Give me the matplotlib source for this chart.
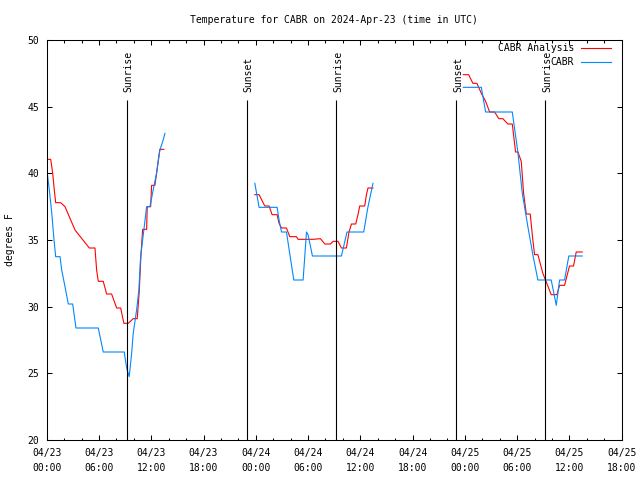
import matplotlib
matplotlib.use("Agg")
import matplotlib.pyplot as plt
import matplotlib.dates as mdates
import pandas as pd

plt.rcParams["font.family"] = ["DejaVu Sans Mono"]
plt.rcParams["font.size"] = 7

START = pd.Timestamp("2024-04-23 00:00")
END = pd.Timestamp("2024-04-25 18:00")

# hours after 04/23 00:00 UTC, temperature in degrees F
analysis_hours = [
    [0.00, 0.46, 0.69, 0.87, 1.03, 1.61, 2.10, 3.25, 4.89, 5.54, 5.73, 5.92,
     6.49, 6.88, 7.45, 8.03, 8.49, 8.86, 9.36, 9.93, 10.39, 10.62, 10.81,
     11.01, 11.47, 11.54, 11.93, 12.04, 12.42, 12.61, 12.80, 12.99, 13.45],
    [23.89, 24.38, 25.03, 25.53, 25.87, 26.45, 26.67, 26.95, 27.52, 27.90,
     28.67, 28.85, 30.57, 31.42, 31.92, 32.57, 32.87, 33.44, 33.83, 34.40,
     34.70, 34.98, 35.47, 35.73, 35.93, 36.50, 36.70, 36.88, 37.45],
    [47.82, 48.43, 48.92, 49.38, 49.89, 50.38, 50.84, 51.41, 51.90, 52.36,
     52.94, 53.44, 53.82, 54.09, 54.47, 54.74, 55.05, 55.50, 55.80, 56.00,
     56.38, 56.95, 57.91, 58.56, 58.87, 59.44, 60.01, 60.47, 60.78, 61.47],
]
analysis_temps = [
    [41.05, 41.05, 40.0, 38.75, 37.8, 37.8, 37.5, 35.75, 34.4, 34.4, 32.75,
     31.9, 31.9, 30.95, 30.95, 29.9, 29.9, 28.75, 28.75, 29.1, 29.1, 31.1,
     33.75, 35.8, 35.8, 37.5, 37.5, 39.1, 39.1, 40.0, 40.95, 41.8, 41.8],
    [38.4, 38.4, 37.55, 37.55, 36.9, 36.9, 36.25, 35.9, 35.9, 35.25, 35.25,
     35.05, 35.05, 35.1, 34.7, 34.7, 34.9, 34.9, 34.4, 34.4, 35.6, 36.2,
     36.2, 36.9, 37.55, 37.55, 38.4, 38.9, 38.9],
    [47.4, 47.4, 46.75, 46.75, 46.0, 45.4, 44.6, 44.6, 44.1, 44.1, 43.7,
     43.7, 41.6, 41.6, 40.9, 38.5, 36.95, 36.95, 35.0, 33.9, 33.9, 32.5,
     30.9, 30.9, 31.6, 31.6, 33.05, 33.05, 34.1, 34.1],
]

station_hours = [
    [0.00, 0.07, 0.30, 0.57, 0.84, 1.03, 1.53, 1.72, 2.10, 2.48, 2.98, 3.36,
     5.92, 6.49, 8.90, 9.09, 9.24, 9.47, 9.75, 9.93, 10.32, 10.58, 10.78,
     11.16, 11.47, 11.85, 12.22, 12.61, 12.99, 13.37, 13.57],
    [23.89, 24.38, 26.45, 26.67, 26.95, 27.52, 28.36, 29.43, 29.82, 30.00,
     30.50, 33.83, 34.47, 36.39, 36.85, 37.45],
    [47.82, 49.89, 50.38, 53.44, 54.08, 54.59, 55.23, 55.80, 56.38, 57.91,
     58.49, 58.87, 59.44, 59.93, 61.47],
]
station_temps = [
    [40.6, 40.0, 38.75, 37.1, 35.0, 33.75, 33.75, 32.75, 31.5, 30.2, 30.2,
     28.4, 28.4, 26.6, 26.6, 25.75, 25.25, 24.75, 26.5, 28.0, 29.75, 31.25,
     33.75, 35.8, 37.5, 37.5, 38.75, 40.0, 41.75, 42.5, 43.0],
    [39.25, 37.45, 37.45, 36.5, 35.6, 35.6, 32.0, 32.0, 35.6, 35.4, 33.8,
     33.8, 35.6, 35.6, 37.4, 39.25],
    [46.45, 46.45, 44.6, 44.6, 41.6, 38.5, 36.0, 33.9, 32.0, 32.0, 30.1,
     32.0, 32.0, 33.8, 33.8],
]

sun_events = ["Sunrise", "Sunset", "Sunrise", "Sunset", "Sunrise"]
sun_times = ["2024-04-23 09:10", "2024-04-23 22:58", "2024-04-24 09:14",
             "2024-04-24 23:02", "2024-04-25 09:13"]


def to_times(hours):
    return [START + pd.Timedelta(hours=h) for h in hours]


fig = plt.figure(figsize=(6.4, 4.8), dpi=100)
ax = fig.add_axes([46.7 / 640, 1 - 440 / 480, 575 / 640, 400 / 480])

for i, (hrs, temps) in enumerate(zip(analysis_hours, analysis_temps)):
    ax.plot(to_times(hrs), temps, color="#ff0000", lw=0.8,
            label="CABR Analysis" if i == 0 else None)
for i, (hrs, temps) in enumerate(zip(station_hours, station_temps)):
    ax.plot(to_times(hrs), temps, color="#0088ff", lw=0.8,
            label="CABR" if i == 0 else None)

for name, t in zip(sun_events, sun_times):
    t = pd.Timestamp(t)
    ax.vlines(t, 20, 45.5, color="black", lw=0.8)
    ax.annotate(name, (t, 46.1), xytext=(2, 0), textcoords="offset pixels",
                rotation=90, ha="center", va="bottom")

ax.set_xlim(START, END)
ax.set_ylim(20, 50)
ax.set_yticks(range(20, 51, 5))
ax.xaxis.set_major_locator(mdates.HourLocator(byhour=[0, 6, 12, 18]))
ax.xaxis.set_minor_locator(mdates.HourLocator(byhour=range(0, 24, 2)))
ax.xaxis.set_major_formatter(mdates.DateFormatter("%m/%d\n%H:%M"))
for lbl in ax.get_xticklabels():
    lbl.set_linespacing(1.55)

ax.tick_params(which="major", direction="in", length=3.3, width=0.75,
               top=True, right=True, pad=5.3)
ax.tick_params(which="minor", direction="in", length=1.8, width=0.75,
               top=True, right=True)
ax.tick_params(axis="x", which="major", pad=6)
for s in ax.spines.values():
    s.set_linewidth(0.75)

ax.set_ylabel("degrees F", fontsize=7, labelpad=9)
ax.set_title("Temperature for CABR on 2024-Apr-23 (time in UTC)",
             fontsize=7, pad=12)

ax.legend(loc="upper right", bbox_to_anchor=(611 / 640, 1 - 43 / 480),
          bbox_transform=fig.transFigure, frameon=False, markerfirst=False,
          fontsize=7, handlelength=3.1, handletextpad=0.7, borderpad=0,
          borderaxespad=0, labelspacing=0.45)

fig.savefig("out.png", dpi=100)
